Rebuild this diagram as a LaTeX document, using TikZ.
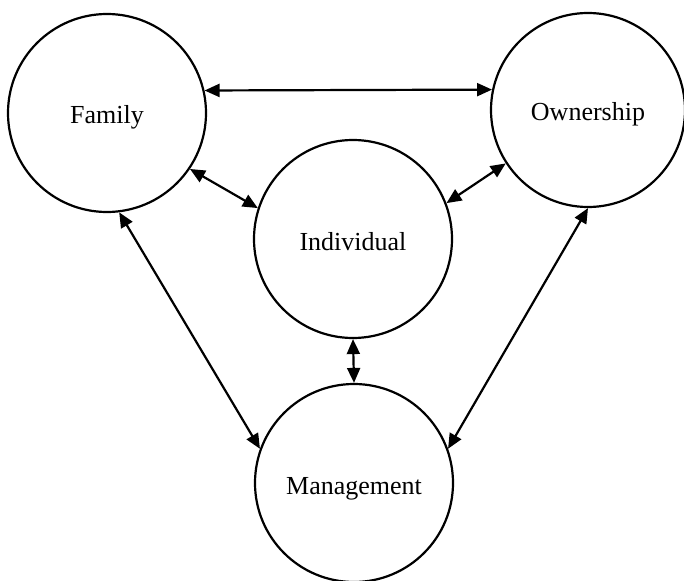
\documentclass[tikz,border=0pt]{standalone}
\usepackage{fontspec}
\setmainfont{Liberation Serif}
\usetikzlibrary{arrows.meta}

\tikzset{
  sphere/.style={circle, draw, line width=2.2pt, inner sep=0pt,
    minimum size=198pt, text height=22pt, text depth=0pt,
    font=\fontsize{26}{30}\selectfont},
  link/.style={line width=2.2pt,
    {Triangle[length=15pt,width=13pt]}-{Triangle[length=15pt,width=13pt]}}
}

\begin{document}
\begin{tikzpicture}[x=1pt, y=-1pt]
  \useasboundingbox (0,0) rectangle (684,580);
  \clip (0,0) rectangle (684,580);

  % the four overlapping systems
  \node[sphere] (fam) at (107,113) {Family};
  \node[sphere, minimum size=194pt] (own) at (588,110) {Ownership};
  \node[sphere] (ind) at (353,239) {Individual};
  \node[sphere] (man) at (354,483) {Management};

  % two-way links between them
  \draw[link] (fam.13.5) -- (own.168.5);
  \draw[link] (fam.-34.8) -- (ind.162.4);
  \draw[link] (own.-147) -- (ind.21.9);
  \draw[link] (fam.-83.7) -- (man.160);
  \draw[link] (own.-90.6) -- (man.20.6);
  \draw[link] (ind.south) -- (man.north);
\end{tikzpicture}
\end{document}
